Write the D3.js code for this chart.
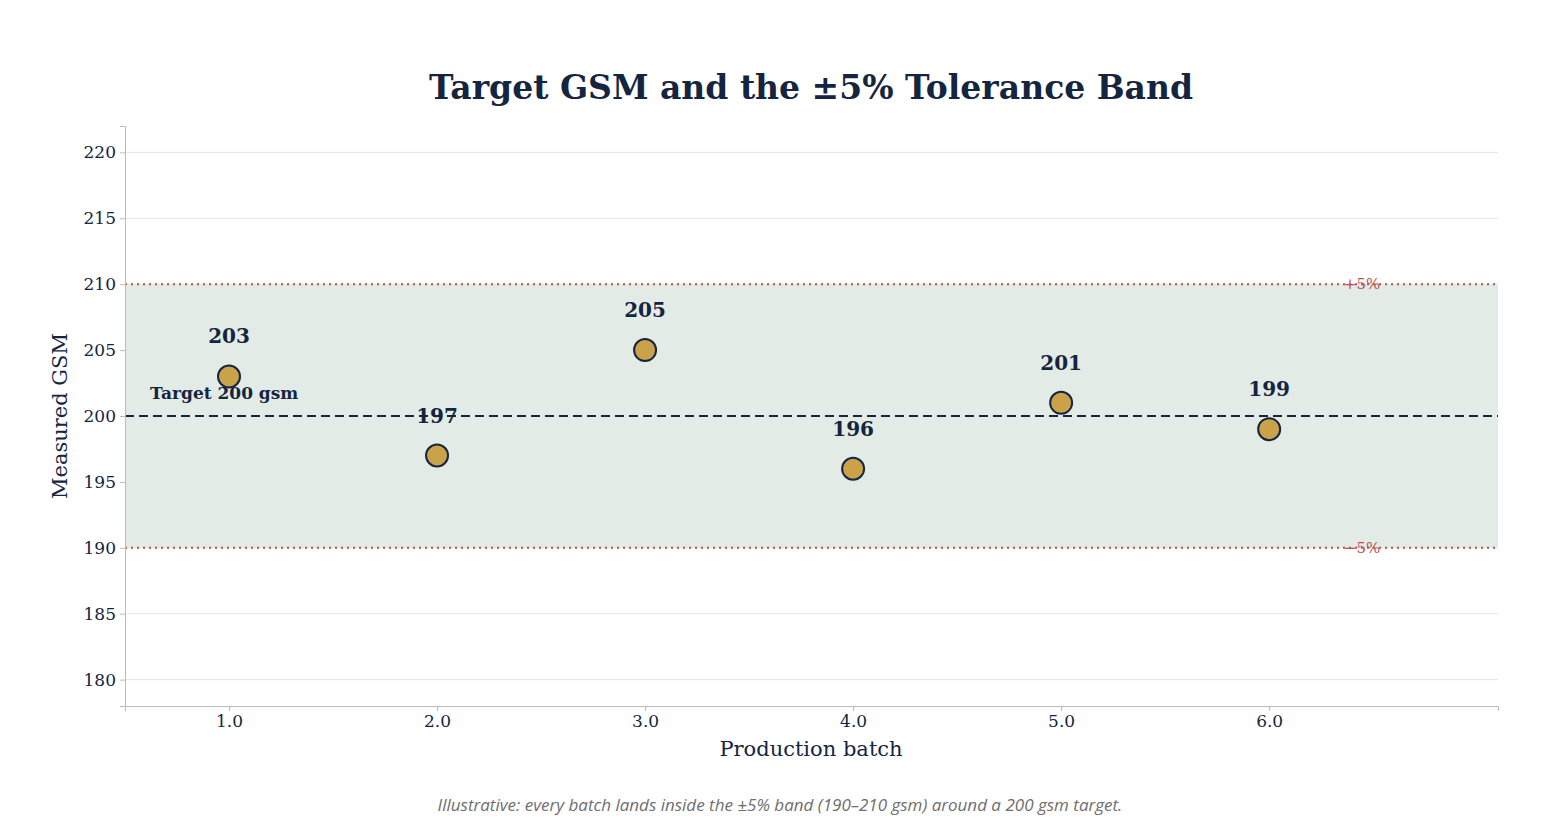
<!DOCTYPE html>
<html><head><meta charset="utf-8">
<script src="https://cdn.jsdelivr.net/npm/d3@7/dist/d3.min.js"></script>
<style>body{margin:0;background:#fff}</style></head>
<body><svg id="c" width="1560" height="840"></svg>
<script>
const batches=[1,2,3,4,5,6];
const gsm=[203,197,205,196,201,199];
const yTicks=[180,185,190,195,200,205,210,215,220];
const xTicks=[1,2,3,4,5,6];
const target=200, lower=190, upper=210;
const navy="#15253f", red="#c0504d", serif="DejaVu Serif, serif";
const svg=d3.select("#c");
const L=125,R=1498,T=126,B=706;
const x=d3.scaleLinear().domain([0.5,7.1]).range([L,R]);
const y=d3.scaleLinear().domain([178,222]).range([B,T]);
svg.append("text").attr("x",811).attr("y",99).attr("text-anchor","middle")
 .attr("font-family",serif).attr("font-weight","bold").attr("font-size",33).attr("fill",navy)
 .text("Target GSM and the ±5% Tolerance Band");
// grid
svg.append("g").selectAll("line").data(yTicks).join("line")
 .attr("x1",L).attr("x2",R).attr("y1",d=>y(d)).attr("y2",d=>y(d)).attr("stroke","#e6e6e6");
svg.append("rect").attr("x",L).attr("width",R-L).attr("y",y(upper)).attr("height",y(lower)-y(upper)).attr("fill","#e3ebe6");
[upper,lower].forEach(v=>svg.append("line").attr("x1",L).attr("x2",R).attr("y1",y(v)).attr("y2",y(v))
 .attr("stroke",red).attr("stroke-width",2).attr("stroke-dasharray","2,4"));
svg.append("text").attr("x",1362).attr("y",y(upper)+5).attr("text-anchor","middle").attr("font-family",serif).attr("font-size",15).attr("fill",red).text("+5%");
svg.append("text").attr("x",1362).attr("y",y(lower)+5).attr("text-anchor","middle").attr("font-family",serif).attr("font-size",15).attr("fill",red).text("−5%");
svg.append("line").attr("x1",L).attr("x2",R).attr("y1",y(target)).attr("y2",y(target))
 .attr("stroke",navy).attr("stroke-width",2.2).attr("stroke-dasharray","9,5");
svg.append("text").attr("x",150).attr("y",y(target)-17).attr("font-family",serif).attr("font-weight","bold").attr("font-size",17).attr("fill",navy).text("Target 200 gsm");
// axes
const ya=svg.append("g").attr("transform",`translate(${L},0)`).call(d3.axisLeft(y).tickValues(yTicks).tickSize(5).tickPadding(4));
const xa=svg.append("g").attr("transform",`translate(0,${B})`).call(d3.axisBottom(x).tickValues(xTicks).tickSize(5).tickPadding(4));
[ya,xa].forEach(a=>{a.select(".domain").attr("stroke","#bbb");a.selectAll(".tick line").attr("stroke","#bbb");
 a.selectAll("text").attr("font-family",serif).attr("font-size",17).attr("fill",navy);});
svg.append("text").attr("x",811).attr("y",756).attr("text-anchor","middle").attr("font-family",serif).attr("font-size",21).attr("fill",navy).text("Production batch");
svg.append("text").attr("transform",`translate(67,416) rotate(-90)`).attr("text-anchor","middle").attr("font-family",serif).attr("font-size",21).attr("fill",navy).text("Measured GSM");
const pts=batches.map((b,i)=>({b,v:gsm[i]}));
svg.append("g").selectAll("circle").data(pts).join("circle").attr("cx",d=>x(d.b)).attr("cy",d=>y(d.v)).attr("r",11)
 .attr("fill","#c9a24a").attr("stroke",navy).attr("stroke-width",2);
svg.append("g").selectAll("text").data(pts).join("text").attr("x",d=>x(d.b)).attr("y",d=>y(d.v)-33).attr("text-anchor","middle")
 .attr("font-family",serif).attr("font-weight","bold").attr("font-size",20).attr("fill",navy).text(d=>d.v);
svg.append("text").attr("x",780).attr("y",811).attr("text-anchor","middle").attr("font-family","Open Sans, sans-serif").attr("font-style","italic").attr("font-size",17).attr("fill","#6e6e6e")
 .text("Illustrative: every batch lands inside the ±5% band (190–210 gsm) around a 200 gsm target.");
</script></body></html>
